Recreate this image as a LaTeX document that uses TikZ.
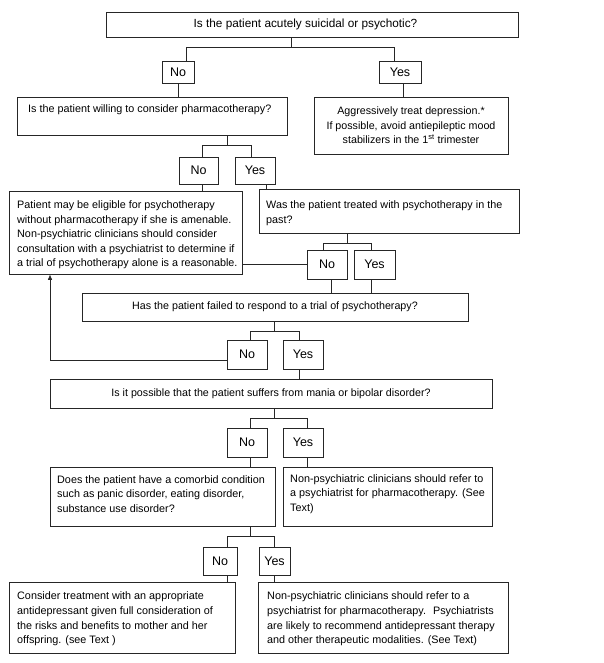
\documentclass[tikz,border=0pt]{standalone}
\usepackage{fontspec}
\setmainfont{Liberation Sans}
\usetikzlibrary{arrows.meta}
\begin{document}
\begin{tikzpicture}[x=1pt,y=-1pt,
  box/.style={draw=black!85, line width=0.7pt, inner sep=0pt, rectangle},
  txt/.style={font=\fontsize{10.8}{14.6}\selectfont, align=left, inner sep=0pt, anchor=west},
  ctxt/.style={font=\fontsize{10.7}{14.6}\selectfont, align=center},
  yn/.style={draw=black!85, line width=0.7pt, inner sep=0pt, font=\fontsize{12.5}{15}\selectfont},
  conn/.style={draw=black!85, line width=0.7pt}]
\useasboundingbox[fill=white] (0,0) rectangle (604,663);

% boxes
\node[box, minimum width=412, minimum height=25] (q1) at (312,24.5) {};
\node[inner sep=0pt, font=\fontsize{11.8}{14}\selectfont] (q1t) at (305.5,24.5) {Is the patient acutely suicidal or psychotic?};
\node[yn, minimum width=32, minimum height=22] (no1) at (178,72) {No};
\node[yn, minimum width=42, minimum height=22] (yes1) at (400,72) {Yes};
\node[box, minimum width=270, minimum height=38] (q2) at (152,116) {};
\node[txt] (q2t) at (28,110) {Is the patient willing to consider pharmacotherapy?};
\node[box, ctxt, minimum width=194, minimum height=57] (aggr) at (411,125.5) {Aggressively treat depression.*\\If possible, avoid antiepileptic mood\\stabilizers in the 1\textsuperscript{st} trimester};
\node[yn, minimum width=39, minimum height=27] (no2) at (198.5,170.5) {No};
\node[yn, minimum width=40, minimum height=27] (yes2) at (255,170.5) {Yes};
\node[box, minimum width=233, minimum height=83] (patient) at (125.5,232.5) {};
\node[txt] (patientt) at (17,235) {Patient may be eligible for psychotherapy\\without pharmacotherapy if she is amenable.\\Non-psychiatric clinicians should consider\\consultation with a psychiatrist to determine if\\a trial of psychotherapy alone is a reasonable.};
\node[box, minimum width=260, minimum height=44] (q3) at (389,211) {};
\node[txt] (q3t) at (266,213) {Was the patient treated with psychotherapy in the\\past?};
\node[yn, minimum width=40, minimum height=29] (no3) at (327,264.5) {No};
\node[yn, minimum width=41, minimum height=29] (yes3) at (374.5,264.5) {Yes};
\node[box, ctxt, minimum width=386, minimum height=28] (q4) at (275,307) {Has the patient failed to respond to a trial of psychotherapy?};
\node[yn, minimum width=40, minimum height=29] (no4) at (247,354.5) {No};
\node[yn, minimum width=40, minimum height=29] (yes4) at (303,354.5) {Yes};
\node[box, ctxt, minimum width=442, minimum height=29] (q5) at (271,393.5) {Is it possible that the patient suffers from mania or bipolar disorder?};
\node[yn, minimum width=40, minimum height=29] (no5) at (247,442.5) {No};
\node[yn, minimum width=40, minimum height=29] (yes5) at (303,442.5) {Yes};
\node[box, minimum width=225, minimum height=59] (q6) at (162.5,496.5) {};
\node[txt] (q6t) at (57,494) {Does the patient have a comorbid condition\\such as panic disorder, eating disorder,\\substance use disorder?};
\node[box, minimum width=209, minimum height=59] (ref1) at (387.5,496.5) {};
\node[txt] (ref1t) at (290,494) {Non-psychiatric clinicians should refer to\\a psychiatrist for pharmacotherapy. (See\\Text)};
\node[yn, minimum width=34, minimum height=28] (no6) at (220,561) {No};
\node[yn, minimum width=31, minimum height=28] (yes6) at (274.5,561) {Yes};
\node[box, minimum width=226, minimum height=71] (consider) at (122,617.5) {};
\node[txt] (considert) at (17,619) {Consider treatment with an appropriate\\antidepressant given full consideration of\\the risks and benefits to mother and her\\offspring. (see Text )};
\node[box, minimum width=250, minimum height=71] (ref2) at (383,617.5) {};
\node[txt] (ref2t) at (267,619) {Non-psychiatric clinicians should refer to a\\psychiatrist for pharmacotherapy.~ Psychiatrists\\are likely to recommend antidepressant therapy\\and other therapeutic modalities. (See Text)};

% junction coordinates
\coordinate (j1) at (291,47); \coordinate (j1l) at (186,47); \coordinate (j1r) at (394,47);
\coordinate (v1r) at (403,90);
\coordinate (j2) at (227,145); \coordinate (j2l) at (202,145); \coordinate (j2r) at (251,145);
\coordinate (v2r) at (266,187);
\coordinate (j3) at (347,243); \coordinate (j3l) at (323,243); \coordinate (j3r) at (371,243);
\coordinate (v3l) at (331,285);
\coordinate (j4) at (274,331); \coordinate (j4l) at (250,331); \coordinate (j4r) at (299,331);
\coordinate (ar) at (50,360);
\coordinate (j5) at (274,418); \coordinate (j5l) at (250,418); \coordinate (j5r) at (307,418);
\coordinate (j6) at (250,536); \coordinate (j6l) at (227,536); \coordinate (j6r) at (274,536);

% connectors
\draw[conn] (q1.south -| j1) -- (j1);
\draw[conn] (no1.north -| j1l) -- (j1l) -- (j1r) -- (yes1.north -| j1r);
\draw[conn] (no1.south) -- (q2.north -| no1.south);
\draw[conn] (yes1.south -| v1r) -- (aggr.north -| v1r);

\draw[conn] (q2.south -| j2) -- (j2);
\draw[conn] (no2.north -| j2l) -- (j2l) -- (j2r) -- (yes2.north -| j2r);
\draw[conn] (no2.south -| j2l) -- (patient.north -| j2l);
\draw[conn] (yes2.south -| v2r) -- (q3.north -| v2r);

\draw[conn] (q3.south -| j3) -- (j3);
\draw[conn] (no3.north -| j3l) -- (j3l) -- (j3r) -- (yes3.north -| j3r);
\draw[conn] (no3.west) -- (patient.east |- no3.west);
\draw[conn] (no3.south -| v3l) -- (q4.north -| v3l);
\draw[conn] (yes3.south -| j3r) -- (q4.north -| j3r);

\draw[conn] (q4.south -| j4) -- (j4);
\draw[conn] (no4.north -| j4l) -- (j4l) -- (j4r) -- (yes4.north -| j4r);
\draw[conn, -{Latex[length=5.5pt,width=4.5pt]}] (no4.west |- ar) -- (ar) -- (patient.south -| ar);
\draw[conn] (yes4.south -| j4r) -- (q5.north -| j4r);

\draw[conn] (q5.south -| j5) -- (j5);
\draw[conn] (no5.north -| j5l) -- (j5l) -- (j5r) -- (yes5.north -| j5r);
\draw[conn] (no5.south -| j5l) -- (q6.north -| j5l);
\draw[conn] (yes5.south -| j5r) -- (ref1.north -| j5r);

\draw[conn] (q6.south -| j6) -- (j6);
\draw[conn] (no6.north -| j6l) -- (j6l) -- (j6r) -- (yes6.north -| j6r);
\draw[conn] (no6.south -| j6l) -- (consider.north -| j6l);
\draw[conn] (yes6.south -| j6r) -- (ref2.north -| j6r);
\end{tikzpicture}
\end{document}
